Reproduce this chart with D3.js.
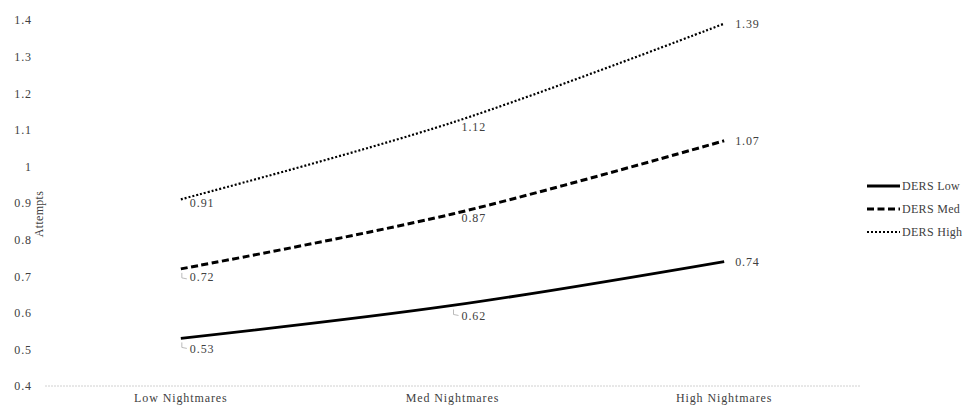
<!DOCTYPE html>
<html><head><meta charset="utf-8">
<script src="https://cdn.jsdelivr.net/npm/d3@7"></script>
<style>body{margin:0;background:#fff}svg{display:block}text{font-family:"Liberation Serif","Times New Roman",serif;letter-spacing:0.9px}</style>
</head><body><svg id="c" width="971" height="410"></svg>
<script>
const categories = ["Low Nightmares", "Med Nightmares", "High Nightmares"];
const seriesNames = ["DERS Low", "DERS Med", "DERS High"];
const dersLow = [0.53, 0.62, 0.74];
const dersMed = [0.72, 0.87, 1.07];
const dersHigh = [0.91, 1.12, 1.39];
const yTicks = [0.4, 0.5, 0.6, 0.7, 0.8, 0.9, 1, 1.1, 1.2, 1.3, 1.4];

const series = [
  {name: seriesNames[0], values: dersLow, width: 2.8, dash: null, leaders: [true, true, false], dy: [15, 15, 4]},
  {name: seriesNames[1], values: dersMed, width: 3, dash: "7,3.5", leaders: [true, false, false], dy: [12, 8, 4]},
  {name: seriesNames[2], values: dersHigh, width: 2.2, dash: "2,2", leaders: [false, false, false], dy: [8, 9, 4]}
];

const svg = d3.select("#c");
const m = {left: 45, right: 111, top: 20, bottom: 24};
const W = 971, H = 410;
const x = d3.scaleBand().domain(categories).range([m.left, W - m.right]);
const y = d3.scaleLinear().domain([0.4, 1.4]).range([H - m.bottom, m.top]);
const cx = c => x(c) + x.bandwidth() / 2;
const txt = "#404040";

// baseline gridline
svg.append("line").attr("x1", m.left).attr("x2", W - m.right)
  .attr("y1", y(0.4)).attr("y2", y(0.4))
  .attr("stroke", "#d0d0d0").attr("stroke-width", 1).attr("stroke-dasharray", "2,1");

// y axis labels
const yAxis = d3.axisLeft(y).tickValues(yTicks).tickSize(0).tickPadding(0)
  .tickFormat(d => d3.format("")(+d.toFixed(1)));
const ya = svg.append("g").attr("transform", `translate(32,0)`).call(yAxis);
ya.select(".domain").remove();
ya.selectAll("text").attr("font-family", "Liberation Serif").attr("font-size", 12).attr("fill", txt);

// x axis labels
const xAxis = d3.axisBottom(x).tickSize(0).tickPadding(0);
const xa = svg.append("g").attr("transform", `translate(0,${H - 17})`).call(xAxis);
xa.select(".domain").remove();
xa.selectAll("text").attr("font-family", "Liberation Serif").attr("font-size", 12).attr("fill", txt);

// y title
svg.append("text").attr("transform", `translate(43,${y(0.87)}) rotate(-90)`)
  .attr("text-anchor", "middle").attr("font-size", 12).attr("fill", txt).style("letter-spacing", "0.3px").text("Attempts");

const line = d3.line().x((d, i) => cx(categories[i])).y(d => y(d)).curve(d3.curveCatmullRom.alpha(0.5));

series.forEach(s => {
  svg.append("path").datum(s.values).attr("d", line)
    .attr("fill", "none").attr("stroke", "#000").attr("stroke-width", s.width)
    .attr("stroke-dasharray", s.dash);
  s.values.forEach((v, i) => {
    const px = cx(categories[i]), py = y(v);
    const last = i === categories.length - 1;
    const lx = last ? px + 11 : px + 9;
    const ly = py + s.dy[i];
    if (s.leaders[i]) {
      svg.append("path").attr("d", `M${px + 1},${py + 4} L${px + 1},${py + 9} L${px + 6},${py + 10}`)
        .attr("fill", "none").attr("stroke", "#aaa").attr("stroke-width", 0.8);
    }
    svg.append("text").attr("x", lx).attr("y", ly).attr("font-size", 12).attr("fill", txt)
      .text(v.toFixed(2));
  });
});

// legend
const lg = svg.append("g");
series.forEach((s, i) => {
  const ly = 186 + i * 23;
  lg.append("line").attr("x1", 867).attr("x2", 900).attr("y1", ly).attr("y2", ly)
    .attr("stroke", "#000").attr("stroke-width", s.width).attr("stroke-dasharray", s.dash);
  lg.append("text").attr("x", 902).attr("y", ly + 4).attr("font-size", 12).attr("fill", txt)
    .style("letter-spacing", "0.3px").text(s.name);
});
</script></body></html>
